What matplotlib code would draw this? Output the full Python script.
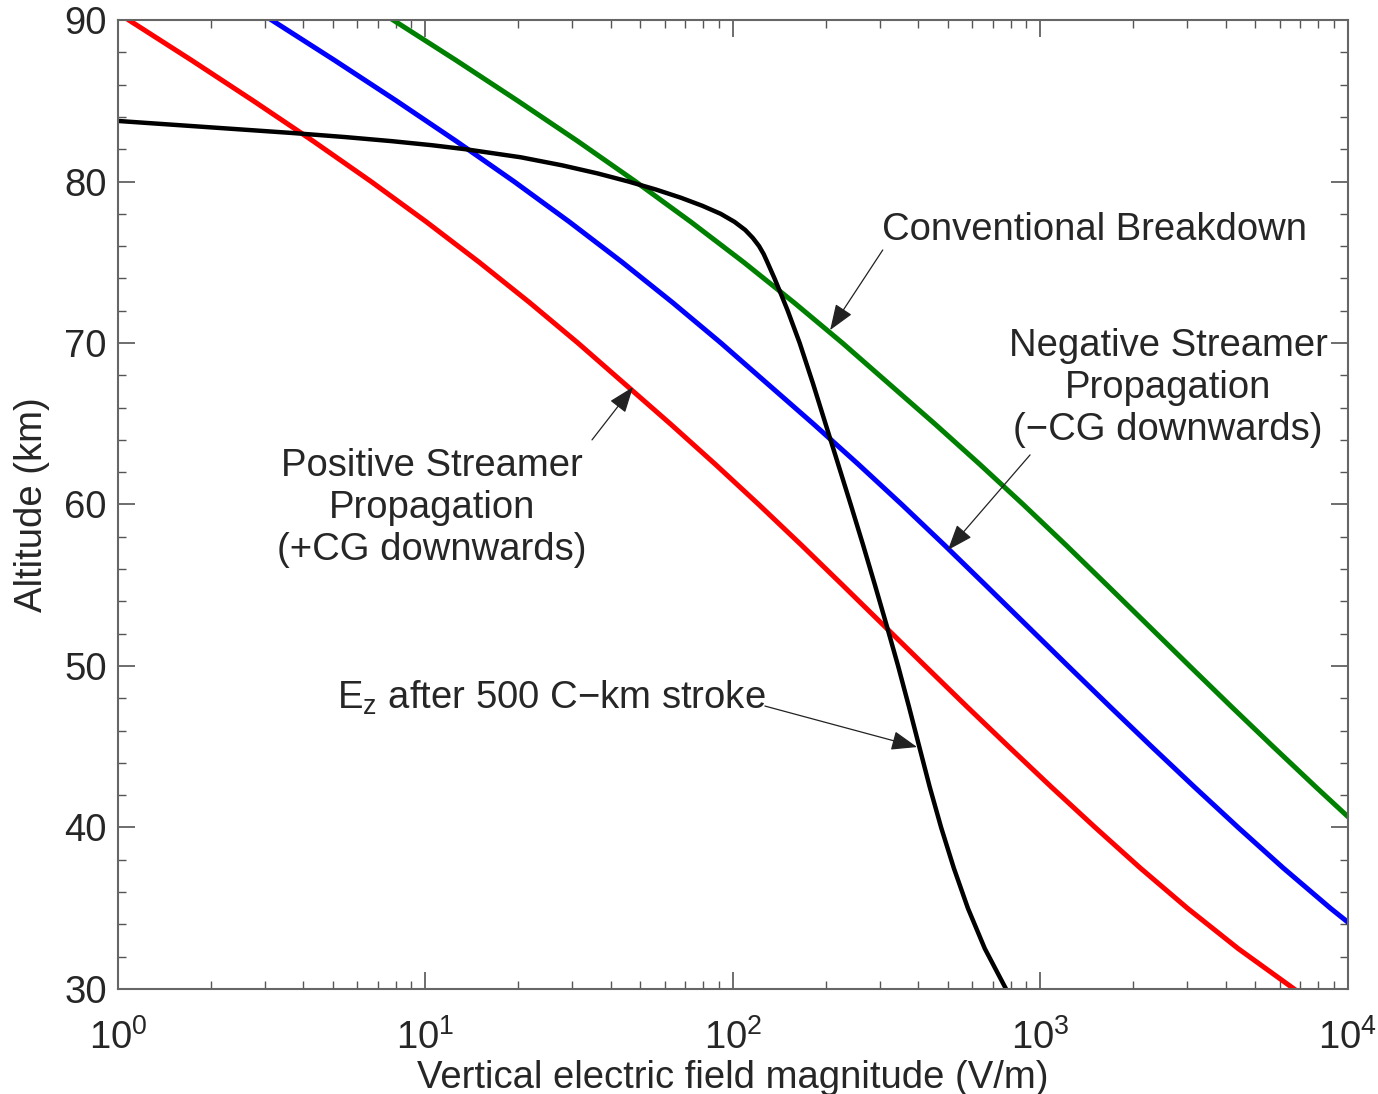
import matplotlib
matplotlib.use("Agg")
import matplotlib.pyplot as plt
import numpy as np
from matplotlib.ticker import LogLocator, MultipleLocator, NullFormatter

plt.rcParams['font.family'] = ['Liberation Sans', 'DejaVu Sans']
plt.rcParams['mathtext.fontset'] = 'custom'
plt.rcParams['mathtext.rm'] = 'Liberation Sans'
plt.rcParams['mathtext.it'] = 'Liberation Sans'

# Altitude grid (km) for the threshold curves
alt = [90, 87.5, 85, 82.5, 80, 77.5, 75, 72.5, 70, 67.5, 65, 62.5, 60,
       57.5, 55, 52.5, 50, 47.5, 45, 42.5, 40, 37.5, 35, 32.5, 30]

# Thresholds (V/m)
e_pos = [1.084, 1.738, 2.754, 4.315, 6.653, 10.07, 14.96, 21.83, 31.33,
         44.26, 62.52, 87.5, 121.3, 166.7, 227.5, 309.7, 421.7, 575.4,
         788.9, 1086, 1507, 2109, 3006, 4395, 6683]
e_neg = [3.16, 5.07, 8.04, 12.59, 19.41, 29.38, 43.65, 63.68, 91.41,
         129.1, 182.4, 255.3, 354.0, 486.4, 663.7, 903.6, 1230, 1679,
         2301, 3170, 4395, 6152, 8770, 12800, 19500]
e_conv = [7.85, 12.59, 19.95, 31.26, 48.19, 72.95, 108.4, 158.1, 227.0,
          320.6, 452.9, 633.9, 879.0, 1208, 1648, 2244, 3055, 4169, 5715,
          7870, 10910, 15280, 21500, 30500, 44000]

# Field after the 500 C-km stroke
alt_ez = [83.75, 83.5, 83.25, 83.0, 82.75, 82.5, 82.25, 82.0, 81.5, 81.0,
          80.5, 80.0, 79.5, 79.0, 78.5, 78.0, 77.5, 77.0, 76.5, 76.0,
          75.5, 75.0, 74.0, 73.0, 72.0, 70.0, 67.5, 65.0, 62.5, 60.0,
          57.5, 55.0, 52.5, 50.0, 47.5, 45.0, 42.5, 40.0, 37.5, 35.0,
          32.5, 30.0]
e_z = [1.0, 1.549, 2.399, 3.715, 5.495, 7.762, 10.47, 13.49, 20.42, 27.86,
       36.31, 45.71, 56.23, 67.61, 79.43, 91.2, 101.2, 109.6, 116.1, 121.6,
       125.9, 129.4, 136.5, 143.5, 150.7, 164.8, 182.0, 200.0, 219.8, 241.5,
       264.9, 289.7, 316.2, 344.4, 373.3, 403.6, 436.5, 475.3, 522.4, 580.8,
       659.2, 772.7]

fig = plt.figure(figsize=(13.78, 10.94), dpi=100)
ax = fig.add_axes([0.0856, 0.096, 0.8926, 0.8857])

ax.plot(e_pos, alt, color='#ff0000', lw=3.6, solid_joinstyle='round')
ax.plot(e_neg, alt, color='#0000ff', lw=3.6, solid_joinstyle='round')
ax.plot(e_conv, alt, color='#008000', lw=3.6, solid_joinstyle='round')
ax.plot(e_z, alt_ez, color='black', lw=3.2, solid_joinstyle='round')

ax.set_xscale('log')
ax.set_xlim(1, 1e4)
ax.set_ylim(30, 90)
ax.yaxis.set_major_locator(MultipleLocator(10))
ax.yaxis.set_minor_locator(MultipleLocator(2))
ax.xaxis.set_major_locator(LogLocator(base=10))
ax.xaxis.set_minor_locator(LogLocator(base=10, subs=np.arange(2, 10)))
ax.xaxis.set_minor_formatter(NullFormatter())

txt_col = '#262626'
fs = 27.5
ax.tick_params(which='both', direction='in', top=True, right=True,
               color='#555555', labelsize=fs, labelcolor=txt_col)
ax.tick_params(which='major', length=12, width=1.2)
ax.tick_params(which='minor', length=6, width=1.0)
ax.tick_params(axis='x', which='major', pad=22)
ax.tick_params(axis='y', which='major', pad=8)
for s in ax.spines.values():
    s.set_color('#666666')
    s.set_linewidth(1.5)

ax.set_xlabel('Vertical electric field magnitude (V/m)', fontsize=fs,
              color=txt_col, labelpad=2)
ax.set_ylabel('Altitude (km)', fontsize=fs, color=txt_col, labelpad=10)

arr = dict(arrowstyle='-|>,head_length=0.8,head_width=0.3', color='#222222',
           lw=0.9, shrinkA=0, shrinkB=0, mutation_scale=20)

ax.text(305, 77.0, 'Conventional Breakdown', fontsize=fs, color=txt_col,
        ha='left', va='center')
ax.annotate('', xy=(207, 70.8), xytext=(307, 75.76), arrowprops=arr)

ax.text(2600, 67.2, 'Negative Streamer\nPropagation\n(\u2212CG downwards)',
        fontsize=fs, color=txt_col, ha='center', va='center', linespacing=1.22)
ax.annotate('', xy=(500, 57.18), xytext=(925, 63.07), arrowprops=arr)

ax.text(10.5, 59.8, 'Positive Streamer\nPropagation\n(+CG downwards)',
        fontsize=fs, color=txt_col, ha='center', va='center', linespacing=1.22)
ax.annotate('', xy=(47.3, 67.27), xytext=(34.8, 64.0), arrowprops=arr)

ax.text(5.15, 48.0, '$\\mathregular{E_z}$ after 500 C\u2212km stroke',
        fontsize=fs, color=txt_col, ha='left', va='center')
ax.annotate('', xy=(397, 44.98), xytext=(127, 47.52), arrowprops=arr)

fig.savefig('out.png', dpi=100)
